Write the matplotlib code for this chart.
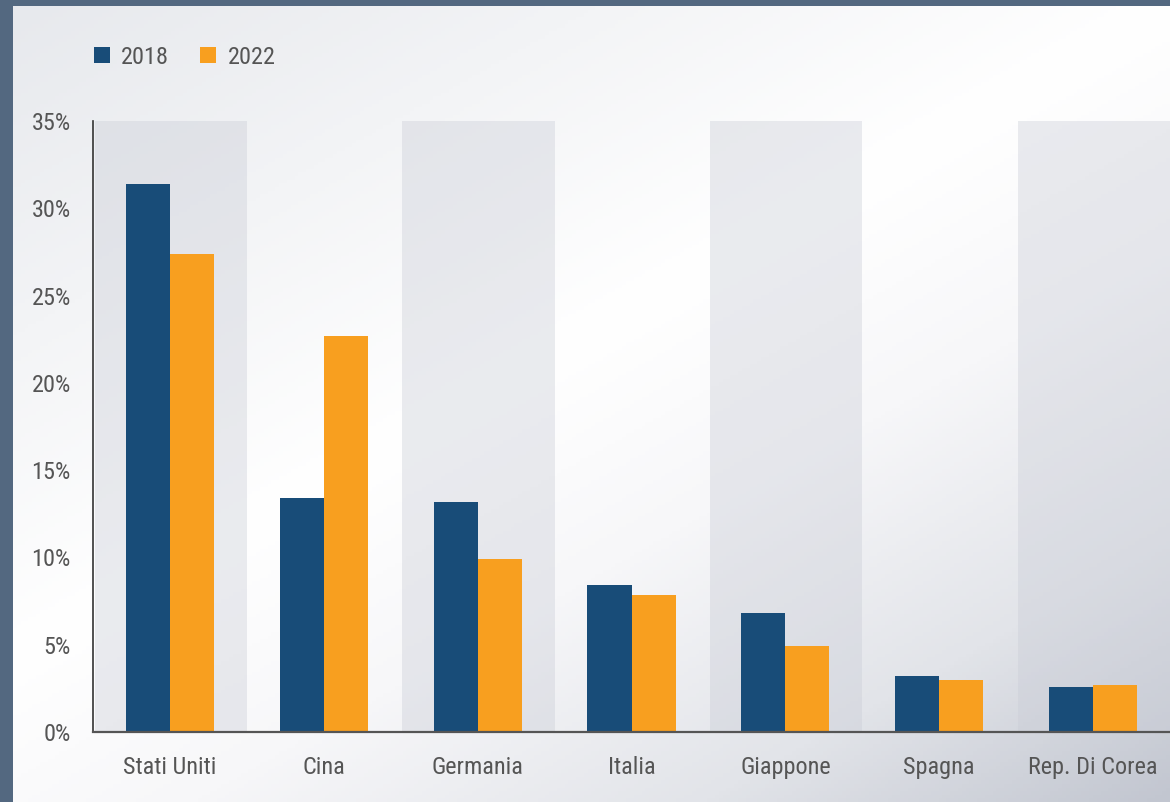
import numpy as np
import matplotlib
matplotlib.use("Agg")
import matplotlib.pyplot as plt
from matplotlib.patches import Patch
from matplotlib.colors import LinearSegmentedColormap
from matplotlib import font_manager

# ---- data ----
categories = ["Stati Uniti", "Cina", "Germania", "Italia", "Giappone", "Spagna", "Rep. Di Corea"]
values_2018 = [31.4, 13.4, 13.2, 8.4, 6.8, 3.2, 2.6]
values_2022 = [27.4, 22.7, 9.9, 7.85, 4.9, 3.0, 2.7]
series_labels = ["2018", "2022"]
y_ticks = [0, 5, 10, 15, 20, 25, 30, 35]
y_tick_labels = ["0%", "5%", "10%", "15%", "20%", "25%", "30%", "35%"]

# ---- style ----
avail = {f.name for f in font_manager.fontManager.ttflist}
family = [f for f in ["Roboto Condensed", "Barlow Semi Condensed", "Archivo Narrow", "Roboto", "DejaVu Sans"]
          if f in avail]
plt.rcParams["font.family"] = family

C2018 = "#184c78"
C2022 = "#f89f1f"
TEXT = "#555555"
BORDER = "#536880"
FS = 17.5

W, H = 1170, 802
fig = plt.figure(figsize=(W / 100, H / 100), dpi=100)
fig.patch.set_facecolor(BORDER)

# background panel with diagonal gradient
bg = fig.add_axes([13 / W, 0, 1 - 13 / W, 1 - 6 / H])
bg.set_axis_off()
nx, ny = 300, 220
xx, yy = np.meshgrid(np.linspace(0, 1, nx), np.linspace(0, 1, ny))
t = (xx * 0.9 + yy * 1.1) / 2.0
cmap = LinearSegmentedColormap.from_list(
    "bgc", [(0.0, "#e7e9ed"), (0.45, "#ffffff"), (0.62, "#f7f7f9"), (0.82, "#e2e4e9"), (1.0, "#c2c6d0")])
bg.imshow(t, cmap=cmap, aspect="auto", extent=(0, 1, 1, 0), vmin=0, vmax=1)
bg.set_xlim(0, 1)
bg.set_ylim(1, 0)

# main axes
ax = fig.add_axes([93 / W, 70 / H, 1 - 93 / W, (732 - 121) / H])
ax.patch.set_alpha(0)
n = len(categories)
x = np.arange(n)
ax.set_xlim(-0.5, n - 0.5)
ax.set_ylim(0, 35)

# alternating bands
for i in range(0, n, 2):
    ax.axvspan(i - 0.5 + 0.01, i + 0.5, ymin=0, ymax=1, color="#c9ccd6", alpha=0.38, lw=0, zorder=0)

bw = 0.286
ax.bar(x - bw / 2, values_2018, width=bw, color=C2018, zorder=2, linewidth=0)
ax.bar(x + bw / 2, values_2022, width=bw, color=C2022, zorder=2, linewidth=0)

ax.set_yticks(y_ticks)
ax.set_yticklabels(y_tick_labels)
ax.set_xticks(x)
ax.set_xticklabels(categories)
ax.tick_params(axis="both", length=0, labelsize=FS, labelcolor=TEXT)
ax.tick_params(axis="y", pad=16)
ax.tick_params(axis="x", pad=17)
for s in ["top", "right"]:
    ax.spines[s].set_visible(False)
ax.spines["left"].set_color("#333333")
ax.spines["left"].set_linewidth(1.2)
ax.spines["bottom"].set_color("#555555")
ax.spines["bottom"].set_linewidth(1.6)

handles = [Patch(facecolor=C2018, edgecolor="none"), Patch(facecolor=C2022, edgecolor="none")]
fig.legend(handles, series_labels, loc="center left", bbox_to_anchor=(72 / W, 1 - 57 / H),
           ncol=2, frameon=False, fontsize=FS, labelcolor=TEXT, handlelength=0.66, handleheight=0.66,
           handletextpad=0.45, columnspacing=1.3)

fig.savefig("out.png", dpi=100, facecolor=fig.get_facecolor())
